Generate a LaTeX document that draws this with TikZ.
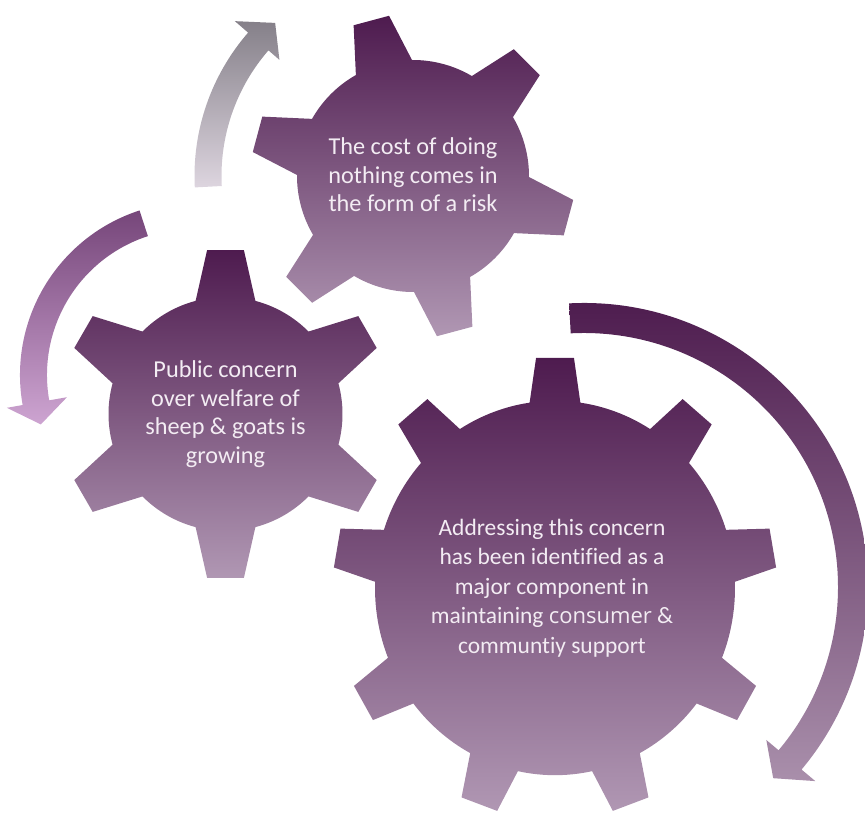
\documentclass[tikz,border=0pt]{standalone}
\usepackage{fontspec}
\setmainfont{Carlito}[Ligatures={NoCommon}]
\newfontfamily\altfont{Open Sans}[Ligatures={NoCommon}]
\definecolor{gdark}{HTML}{4E1B4F}
\definecolor{glight}{HTML}{B097B3}
\definecolor{txtc}{HTML}{F3ECF3}
\definecolor{aAtop}{HTML}{858089}
\definecolor{aAbot}{HTML}{DDD5DF}
\definecolor{aBtop}{HTML}{76467A}
\definecolor{aBbot}{HTML}{CDA4D1}
\definecolor{aCtop}{HTML}{4D1B4E}
\definecolor{aCbot}{HTML}{A98FAB}
\tikzset{
  gearfill/.style={top color=gdark, bottom color=glight, draw=none},
  gtext/.style={text=txtc, align=center, inner sep=0pt,
    font=\fontsize{18.2}{21.4}\selectfont},
  gtextbig/.style={gtext, font=\fontsize{17.6}{22.1}\selectfont},
}
% #1 options, #2 cx, #3 cy, #4 teeth, #5 body r, #6 tip r, #7 base half-angle, #8 tip half-angle, #9 phase
\newcommand\mygear[9][]{%
  \begin{scope}[shift={(#2,#3)},#1]
    \shade[gearfill] ({#9-#7}:#5)
      \foreach \k [evaluate=\k as \th using #9+(\k-1)*360/#4] in {1,...,#4} {
        -- ({\th-#8}:#6) -- ({\th+#8}:#6) -- ({\th+#7}:#5)
        arc[start angle=\th+#7, end angle=\th+360/#4-#7, radius=#5]
      } -- cycle;
  \end{scope}}
\begin{document}
\begin{tikzpicture}[x=0.75pt,y=0.75pt]
  \useasboundingbox (0,0) rectangle (865,813);
  % gears
  \mygear{413}{637}{6}{116}{162}{14.5}{6.5}{45}
  \mygear{225.5}{399}{6}{117}{165}{14.8}{6.4}{90}
  \mygear[yscale=1.04]{555}{225}{9}{180}{222}{8.1}{4.9}{90}
  % arrow A (grey, up-right)
  \begin{scope}[shift={(413,637)}]
    \shade[top color=aAtop, bottom color=aAbot]
      (183:218.5) arc[start angle=183, end angle=139, radius=218.5]
      -- (139:236) -- (132:206) -- (139:177)
      -- (139:191.5) arc[start angle=139, end angle=183, radius=191.5] -- cycle;
  \end{scope}
  % arrow B (left, down)
  \begin{scope}[shift={(193,438)}]
    \shade[top color=aBtop, bottom color=aBbot]
      (108:173) arc[start angle=108, end angle=190, radius=173]
      -- (190:189) -- (198:160) -- (190:128)
      -- (190:146) arc[start angle=190, end angle=108, radius=146] -- cycle;
  \end{scope}
  % arrow C (right, big)
  \begin{scope}[shift={(584,226)}]
    \shade[top color=aCtop, bottom color=aCbot]
      (93:284) arc[start angle=93, end angle=-40, radius=284]
      -- (-40:302) -- (-45.3:269) -- (-40:238)
      -- (-40:254) arc[start angle=-40, end angle=93, radius=254] -- cycle;
  \end{scope}
  % texts
  \node[gtext] (t1) at (413,638) {The cost of doing\\nothing comes in\\the form of a risk};
  \node[gtext] (t2) at (225.5,399) {Public concern\\over welfare of\\sheep \& goats is\\growing};
  \node[gtextbig] (t3) at (552,225) {Addressing this concern\\has been identified as a\\major component in\\maintaining {\altfont\fontsize{16.5}{22.1}\selectfont consumer} \&\\communtiy support};
\end{tikzpicture}
\end{document}
